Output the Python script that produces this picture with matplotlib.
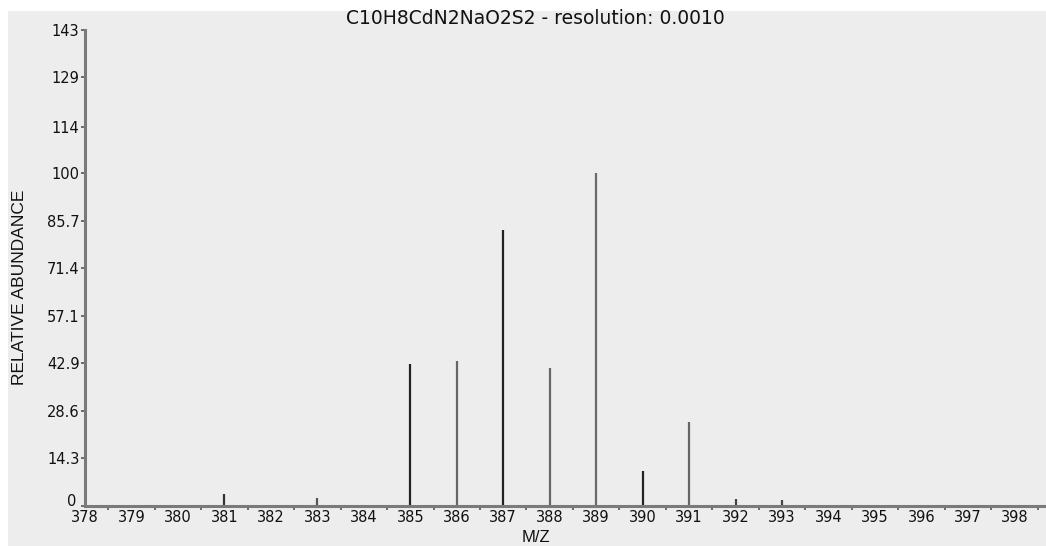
import matplotlib.pyplot as plt
from matplotlib.patches import Rectangle
from matplotlib.ticker import FixedLocator
from matplotlib.transforms import ScaledTranslation

mz = [381, 383, 385, 386, 387, 388, 389, 390, 391, 392, 393]
abundance = [3.6, 2.4, 42.6, 43.6, 82.9, 41.6, 100, 10.5, 25.3, 2.2, 1.8]
peak_colors = ['#333333', '#555555', '#222222', '#666666', '#222222', '#666666',
               '#6a6a6a', '#222222', '#666666', '#444444', '#444444']

yticks = [0, 14.3, 28.6, 42.9, 57.1, 71.4, 85.7, 100, 114, 129, 143]
ytick_labels = ['0', '14.3', '28.6', '42.9', '57.1', '71.4', '85.7', '100', '114', '129', '143']
xticks = list(range(378, 399))

W, H = 1046, 546
fig = plt.figure(figsize=(W / 100, H / 100), dpi=100, facecolor='white')
bg = Rectangle((8 / W, 0), 1 - 8 / W, (H - 11) / H, transform=fig.transFigure,
               facecolor='#ededed', edgecolor='none', zorder=-10)
fig.add_artist(bg)

ax = fig.add_axes([85 / W, (H - 506) / H, (W - 85) / W, (506 - 30) / H])
ax.set_facecolor('none')

ax.vlines(mz, 0, abundance, colors=peak_colors, linewidth=1.6)

ax.set_xlim(378.01, 398.68)
ax.set_ylim(0, 143)

for s in ['top', 'right']:
    ax.spines[s].set_visible(False)
for s in ['left', 'bottom']:
    ax.spines[s].set_color('#7a7a7a')
    ax.spines[s].set_linewidth(2.2)

font = 'DejaVu Sans'
ax.set_yticks(yticks)
ax.set_yticklabels(ytick_labels, fontsize=10.5, family=font, color='#111111')
ax.tick_params(axis='y', length=3, width=1.2, color='#555555', pad=1)
# the "0" sits a little higher so it clears the first x label
zero = ax.get_yticklabels()[0]
zero.set_transform(zero.get_transform() + ScaledTranslation(-2 / 72, 4 / 72, fig.dpi_scale_trans))

ax.set_xticks(xticks)
ax.set_xticklabels([str(x) for x in xticks], fontsize=10.5, family=font, color='#111111')
ax.tick_params(axis='x', which='major', length=0, pad=3)
ax.xaxis.set_minor_locator(FixedLocator([x + 0.5 for x in xticks]))
ax.tick_params(axis='x', which='minor', length=3, width=1.2, color='#555555')

ax.set_xlabel('M/Z', fontsize=12, family='Liberation Sans', color='#111111', va='center')
ax.xaxis.set_label_coords((536 - 85) / (W - 85), -(538 - 506) / (506 - 30))
ax.set_ylabel('RELATIVE ABUNDANCE', fontsize=12.5, family='Liberation Sans', color='#111111',
              va='center')
ax.yaxis.set_label_coords(-(85 - 20) / (W - 85), (506 - 287) / (506 - 30))

fig.text(535.5 / W, 1 - 18.5 / H, 'C10H8CdN2NaO2S2 - resolution: 0.0010', ha='center', va='center',
         fontsize=13.5, family=font, color='#111111')

fig.savefig('out.png', dpi=100, facecolor='white')
